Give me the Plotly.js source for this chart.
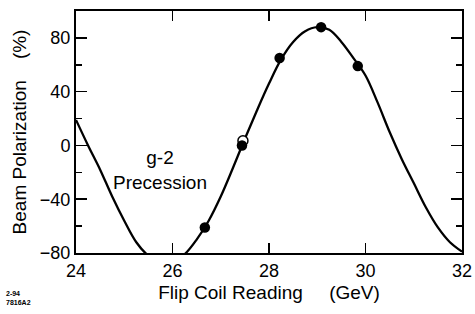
<!DOCTYPE html>
<html>
<head>
<meta charset="utf-8">
<script src="https://cdn.plot.ly/plotly-3.0.1.min.js"></script>
<style>html,body{margin:0;padding:0;background:#fff;}#chart{width:475px;height:314px;}</style>
</head>
<body>
<div id="chart"></div>
<script>
// Fitted precession curve
var curveX = [24.00,24.25,24.50,24.75,25.00,25.25,25.50,25.75,26.00,26.25,26.50,26.75,27.00,27.25,27.50,27.75,28.00,28.25,28.50,28.75,29.00,29.25,29.50,29.75,30.00,30.25,30.50,30.75,31.00,31.25,31.50,31.75,32.00];
var curveY = [19,0,-18,-38,-56,-72,-82,-87,-87,-81,-70,-56,-38,-17,5,26,46,64,77,85,88,86,77,65,52,32,10,-10,-28,-46,-61,-72,-79];
// Measured points
var filledX = [26.67,27.44,28.22,29.08,29.84];
var filledY = [-61,0,65,88,59];
var openX = [27.46];
var openY = [3.5];
var xTicks = [24,26,28,30,32];
var yTicks = [-80,-40,0,40,80];

var font = 'Liberation Sans, Arial, Helvetica, sans-serif';
var traces = [
  {x: curveX, y: curveY, mode: 'lines', line: {color: '#000', width: 2.3, shape: 'spline', smoothing: 1}, hoverinfo: 'skip'},
  {x: openX, y: openY, mode: 'markers', marker: {symbol: 'circle', size: 10, color: '#fff', line: {color: '#000', width: 1.5}}},
  {x: filledX, y: filledY, mode: 'markers', marker: {symbol: 'circle', size: 10.5, color: '#000'}}
];
var layout = {
  width: 475, height: 314,
  margin: {l: 76, r: 13, t: 11, b: 61},
  paper_bgcolor: '#fff', plot_bgcolor: '#fff',
  showlegend: false,
  font: {family: font, color: '#000', size: 18},
  xaxis: {
    range: [24, 32], tickvals: xTicks, ticktext: xTicks.map(String),
    ticks: 'inside', ticklen: 10, tickwidth: 1.5, tickcolor: '#000',
    showline: true, linecolor: '#000', linewidth: 2, mirror: 'ticks',
    showgrid: false, zeroline: false,
    tickfont: {size: 18, family: font},
    title: {text: 'Flip Coil Reading\u00a0\u00a0\u00a0\u00a0\u00a0(GeV)', font: {size: 19, family: font}, standoff: 6}
  },
  yaxis: {
    range: [-80, 100], tickvals: yTicks, ticktext: ['\u221280','\u221240','0','40','80'],
    ticks: 'inside', ticklen: 11, tickwidth: 1.5, tickcolor: '#000',
    minor: {tickvals: [-60,-20,20,60], ticks: 'inside', ticklen: 6, tickwidth: 1.5, tickcolor: '#000'},
    showline: true, linecolor: '#000', linewidth: 2, mirror: 'ticks',
    showgrid: false, zeroline: false,
    tickfont: {size: 18, family: font},
    title: {text: 'Beam Polarization\u00a0\u00a0\u00a0\u00a0(%)', font: {size: 19, family: font}, standoff: 8}
  },
  annotations: [
    {x: 25.75, y: -18, xref: 'x', yref: 'y', text: 'g-2<br>Precession', showarrow: false, font: {size: 19, family: font}, align: 'center'},
    {x: 0.006, y: 0.02, xref: 'paper', yref: 'paper', xanchor: 'left', yanchor: 'bottom', text: '<b>2-94<br>7816A2</b>', showarrow: false, font: {size: 7, family: font}, align: 'left', xshift: -74, yshift: -60}
  ]
};
Plotly.newPlot('chart', traces, layout, {staticPlot: true, displayModeBar: false});
</script>
</body>
</html>
